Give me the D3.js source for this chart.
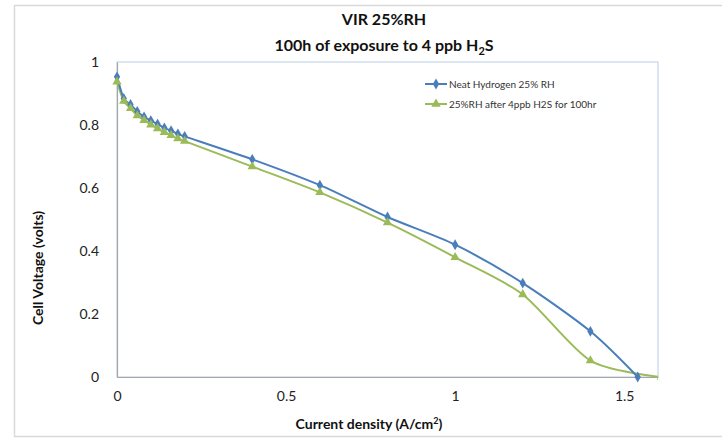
<!DOCTYPE html>
<html>
<head>
<meta charset="utf-8">
<script src="https://cdn.jsdelivr.net/npm/d3@7"></script>
<style>
  html, body { margin: 0; padding: 0; background: #fff; }
  svg { display: block; font-family: Lato, "Open Sans", sans-serif; }
</style>
</head>
<body>
<svg id="chart" width="722" height="440"></svg>
<script>
// Polarization curves: current density (A/cm²) vs cell voltage (V)
const neatCurrent = [0, 0.02, 0.04, 0.06, 0.08, 0.10, 0.12, 0.14, 0.16, 0.18, 0.20, 0.4, 0.6, 0.8, 1.0, 1.2, 1.4, 1.54];
const neatVoltage = [0.953, 0.884, 0.865, 0.843, 0.826, 0.814, 0.803, 0.791, 0.782, 0.772, 0.764, 0.691, 0.609, 0.508, 0.420, 0.298, 0.145, 0.0];

const h2sCurrent = [0, 0.02, 0.04, 0.06, 0.08, 0.10, 0.12, 0.14, 0.16, 0.18, 0.20, 0.4, 0.6, 0.8, 1.0, 1.2, 1.4, 1.61];
const h2sVoltage = [0.937, 0.876, 0.853, 0.830, 0.815, 0.801, 0.789, 0.777, 0.767, 0.757, 0.749, 0.668, 0.586, 0.490, 0.380, 0.262, 0.052, 0.0];

const seriesNames = ["Neat Hydrogen 25% RH", "25%RH after 4ppb H2S for 100hr"];
const xTicks = [0, 0.5, 1, 1.5];
const yTicks = [0, 0.2, 0.4, 0.6, 0.8, 1];

const svg = d3.select("#chart");
const plot = { left: 117, right: 658, top: 62, bottom: 377 };

// Outer chart frame
svg.append("rect")
  .attr("x", 14.5).attr("y", 5.5).attr("width", 720).attr("height", 431)
  .attr("fill", "#fff").attr("stroke", "#d9d9d9").attr("stroke-width", 1.5);

const x = d3.scaleLinear().domain([0, 1.6]).range([plot.left, plot.right]);
const y = d3.scaleLinear().domain([0, 1]).range([plot.bottom, plot.top]);

// Plot area border
svg.append("rect")
  .attr("x", plot.left).attr("y", plot.top)
  .attr("width", plot.right - plot.left).attr("height", plot.bottom - plot.top)
  .attr("fill", "none").attr("stroke", "#b9cde5").attr("stroke-width", 1);

// Axes
const xAxis = svg.append("g")
  .attr("transform", `translate(0,${plot.bottom})`)
  .call(d3.axisBottom(x).tickValues(xTicks).tickSize(0).tickPadding(14)
    .tickFormat(d => d3.format("")(d)));
const yAxis = svg.append("g")
  .attr("transform", `translate(${plot.left},0)`)
  .call(d3.axisLeft(y).tickValues(yTicks).tickSize(0).tickPadding(18)
    .tickFormat(d => d3.format("")(d)));

[xAxis, yAxis].forEach(g => {
  g.select(".domain").attr("stroke", "#a6a6a6").attr("stroke-width", 1.2);
  g.selectAll("text").attr("font-family", "Lato, sans-serif").attr("font-size", 14).attr("fill", "#222");
});

// Clip for data marks (right side cut at the plot edge)
svg.append("clipPath").attr("id", "plotClip")
  .append("rect")
  .attr("x", plot.left - 10).attr("y", plot.top - 10)
  .attr("width", plot.right - plot.left + 10).attr("height", plot.bottom - plot.top + 16);

const neat = neatCurrent.map((c, i) => [c, neatVoltage[i]]);
const h2s = h2sCurrent.map((c, i) => [c, h2sVoltage[i]]);

const line = d3.line()
  .x(d => x(d[0])).y(d => y(d[1]))
  .curve(d3.curveCardinal.tension(0.2));

const blue = "#4a7ebb";
const green = "#9bbb59";

const data = svg.append("g").attr("clip-path", "url(#plotClip)");

data.append("path").datum(h2s)
  .attr("d", line).attr("fill", "none").attr("stroke", green).attr("stroke-width", 2);
data.append("path").datum(neat)
  .attr("d", line).attr("fill", "none").attr("stroke", blue).attr("stroke-width", 2);

const diamond = d3.symbol().type(d3.symbolDiamond).size(34);
const triangle = d3.symbol().type(d3.symbolTriangle).size(38);

data.selectAll(".m-neat").data(neat).enter().append("path")
  .attr("class", "m-neat")
  .attr("transform", d => `translate(${x(d[0])},${y(d[1])})`)
  .attr("d", diamond).attr("fill", blue);

data.selectAll(".m-h2s").data(h2s).enter().append("path")
  .attr("class", "m-h2s")
  .attr("transform", d => `translate(${x(d[0])},${y(d[1])})`)
  .attr("d", triangle).attr("fill", green);

// Legend
const legend = svg.append("g").attr("transform", "translate(425,84)");
[[blue, diamond], [green, triangle]].forEach(([col, sym], i) => {
  const g = legend.append("g").attr("transform", `translate(0,${i * 20})`);
  g.append("line").attr("x1", 0).attr("x2", 22).attr("y1", 0).attr("y2", 0)
    .attr("stroke", col).attr("stroke-width", 2);
  g.append("path").attr("transform", "translate(11,0)").attr("d", sym).attr("fill", col);
  g.append("text").attr("x", 24).attr("y", 3.5)
    .attr("font-size", 10).attr("fill", "#333").text(seriesNames[i]);
});

// Title
const title = svg.append("text").attr("text-anchor", "middle")
  .attr("font-weight", "bold").attr("font-size", 16).attr("fill", "#111");
title.append("tspan").attr("x", 384).attr("y", 25).text("VIR 25%RH");
const t2 = title.append("tspan").attr("x", 384).attr("y", 51);
t2.text("100h of exposure to 4 ppb H");
title.append("tspan").attr("font-size", 11).attr("dy", 4).text("2");
title.append("tspan").attr("dy", -4).text("S");

// Axis titles
const xt = svg.append("text").attr("x", 369).attr("y", 429).attr("text-anchor", "middle")
  .attr("font-weight", "bold").attr("font-size", 14).attr("fill", "#111");
xt.append("tspan").text("Current density (A/cm");
xt.append("tspan").attr("font-size", 9).attr("dy", -5).text("2");
xt.append("tspan").attr("dy", 5).text(")");

svg.append("text")
  .attr("transform", "translate(43,268) rotate(-90)")
  .attr("text-anchor", "middle").attr("font-weight", "bold").attr("font-size", 14)
  .attr("fill", "#111").text("Cell Voltage (volts)");
</script>
</body>
</html>
